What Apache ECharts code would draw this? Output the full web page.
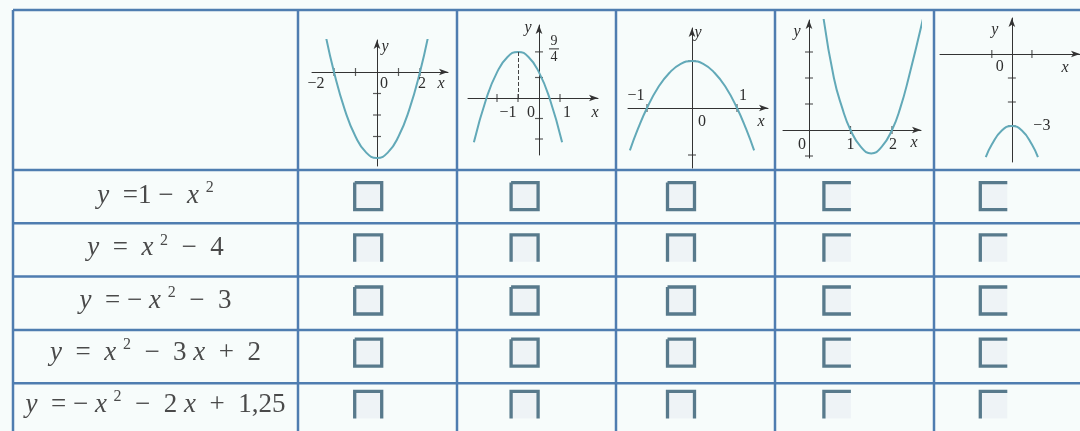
<!DOCTYPE html>
<html lang="ru">
<head>
<meta charset="UTF-8" />
<title>Графики парабол</title>
<style>
html, body { margin: 0; padding: 0; background: #f7fcfb; }
#main { width: 1080px; height: 431px; }
</style>
</head>
<body>
<div id="main"></div>
<script src="https://cdn.jsdelivr.net/npm/echarts@6/dist/echarts.min.js"></script>
<script type="text/javascript">
// строки таблицы
var formulas = ['y  =1 −  x ²', 'y  =  x ²  −  4', 'y  = − x ²  −  3', 'y  =  x ²  −  3 x  +  2', 'y  = − x ²  −  2 x  +  1,25'];
var columns = ['1', '2', '3', '4', '5'];
// какие стороны у квадратиков видны (t l r b)
var boxSides = [
    ['tlrb', 'tlrb', 'tlrb', 'tlb', 'tlb'],
    ['tlr', 'tlr', 'tlr', 'tl', 'tl'],
    ['tlrb', 'tlrb', 'tlrb', 'tlb', 'tlb'],
    ['tlrb', 'tlrb', 'tlrb', 'tlb', 'tlb'],
    ['tlr', 'tlr', 'tlr', 'tl', 'tl']
];

// графики в шапке
var curve1 = [[-2.4, 1.76], [-2, 0], [-1.5, -1.75], [-1, -3], [-0.5, -3.75], [0, -4], [0.5, -3.75], [1, -3], [1.5, -1.75], [2, 0], [2.4, 1.76]];
var curve2 = [[-3.1, -2.16], [-2.5, 0], [-2, 1.25], [-1.5, 2], [-1, 2.25], [-0.5, 2], [0, 1.25], [0.5, 0], [1.1, -2.16]];
var curve3 = [[-1.38, -0.9], [-1.2, -0.44], [-1, 0], [-0.75, 0.44], [-0.5, 0.75], [-0.25, 0.94], [0, 1], [0.25, 0.94], [0.5, 0.75], [0.75, 0.44], [1, 0], [1.2, -0.44], [1.38, -0.9]];
var curve4 = [[0.35, 4.3], [0.6, 2.0], [0.8, 0.85], [1, 0], [1.25, -0.65], [1.5, -0.9], [1.75, -0.65], [2, 0], [2.2, 0.85], [2.4, 2.0], [2.75, 4.3]];
var curve5 = [[-1.3, -4.3], [-1, -3.77], [-0.5, -3.19], [0, -3], [0.5, -3.19], [1, -3.77], [1.3, -4.3]];
var vertex2 = [-1, 2.25];

var xTicks = [[-2, -1, 1, 2], [-2, -1, 1], [-1, 1], [1, 2], [-1, 1]];
var yTicks = [[-1, -2, -3], [2.25, 1, -1, -2], [1, -1], [3, 2, 1, -1], [-1, -2, -3]];
var xLabels = [
    [[-2, '−2'], [0, '0'], [2, '2']],
    [[-1, '−1'], [0, '0'], [1, '1']],
    [[-1, '−1'], [0, '0'], [1, '1']],
    [[0, '0'], [1, '1'], [2, '2']],
    [[0, '0']]
];
var yLabels = [[], [[2.25, '9/4']], [], [], [[-3, '−3']]];

// расположение графиков (пиксели)
var plots = [
    {ox: 377, oy: 72, sx: 21.5, sy: 21.5, xL: 312, xR: 448, yT: 40, yB: 166,
        shift: {'−2': [-18, 12], '0': [7, 12], '2': [2, 12], 'x': [-7, 12], 'y': [8, 7]}},
    {ox: 539, oy: 98, sx: 21, sy: 20.5, xL: 468, xR: 598, yT: 25, yB: 155,
        shift: {'−1': [-10, 15], '0': [-8, 15], '1': [7, 15], 'x': [-3, 15], 'y': [-11, 3], '9/4': [15, -3]}},
    {ox: 692, oy: 108, sx: 45, sy: 47, xL: 628, xR: 768, yT: 28, yB: 168,
        shift: {'−1': [-11, -12], '1': [6, -12], '0': [10, 14], 'x': [-7, 14], 'y': [6, 5]}},
    {ox: 809, oy: 130, sx: 41.5, sy: 26, xL: 783, xR: 921, yT: 20, yB: 158,
        shift: {'0': [-7, 15], '1': [0, 15], '2': [1, 15], 'x': [-7, 13], 'y': [-12, 12]}},
    {ox: 1017, oy: 54, sx: 21.5, sy: 24, xL: 940, xR: 1090, yT: 18, yB: 162,
        shift: {'0': [-12, 13], '−3': [30, 0], 'x': [-15, 14], 'y': [-17, 12]}}
];
var curves = [curve1, curve2, curve3, curve4, curve5];

var tableLeft = 13, tableTop = 10, headBottom = 170, firstCol = 298, colW = 159, rowH = 53.3;
var lineColor = '#4f7db0';

var myChart = echarts.init(document.getElementById('main'));

var grids = [], xAxes = [], yAxes = [], series = [];
plots.forEach(function (p, i) {
    var xmin = (p.xL - p.ox) / p.sx, xmax = (p.xR - p.ox) / p.sx;
    var ymin = -(p.yB - p.oy) / p.sy, ymax = (p.oy - p.yT) / p.sy;
    grids.push({left: p.xL, top: p.yT, width: p.xR - p.xL, height: p.yB - p.yT});
    var axisLine = {onZero: true, symbol: ['none', 'arrow'], symbolSize: [5, 9], lineStyle: {color: '#333', width: 1}};
    xAxes.push({type: 'value', gridIndex: i, min: xmin, max: xmax, axisLine: axisLine,
        axisTick: {show: false}, axisLabel: {show: false}, splitLine: {show: false}});
    yAxes.push({type: 'value', gridIndex: i, min: ymin, max: ymax, axisLine: axisLine,
        axisTick: {show: false}, axisLabel: {show: false}, splitLine: {show: false}});

    var marks = [];
    function addMark(coord, text) {
        var italic = (text === 'x' || text === 'y');
        var fmt = text;
        if (text === '9/4') fmt = '{n|9}\n{b| }\n{n|4}';
        marks.push({coord: coord, label: {formatter: fmt, offset: p.shift[text] || [0, 0],
            fontStyle: italic ? 'italic' : 'normal'}});
    }
    xLabels[i].forEach(function (l) { addMark([l[0], 0], l[1]); });
    yLabels[i].forEach(function (l) { addMark([0, l[0]], l[1]); });
    addMark([xmax, 0], 'x');
    addMark([0, ymax], 'y');

    var s = {
        type: 'line', xAxisIndex: i, yAxisIndex: i, data: curves[i], smooth: true, showSymbol: false,
        lineStyle: {color: '#62a9b8', width: 2}, silent: true, z: 3,
        markPoint: {
            symbol: 'circle', symbolSize: 1, itemStyle: {color: 'transparent'}, silent: true,
            label: {show: true, position: 'inside', fontFamily: 'Liberation Serif', fontSize: 16, color: '#2e2e2e',
                rich: {n: {fontSize: 14, lineHeight: 13, color: '#2e2e2e', fontFamily: 'Liberation Serif'},
                    b: {width: 10, height: 1, lineHeight: 3, fontSize: 1, backgroundColor: '#2e2e2e'}}},
            data: marks
        }
    };
    if (i === 1) {
        s.markLine = {symbol: 'none', silent: true, label: {show: false},
            lineStyle: {type: 'dashed', color: '#444', width: 1},
            data: [[{coord: [vertex2[0], 0]}, {coord: vertex2}]]};
    }
    series.push(s);
    series.push({type: 'scatter', xAxisIndex: i, yAxisIndex: i, symbol: 'rect', symbolSize: [1.2, 8],
        itemStyle: {color: '#333'}, silent: true, data: xTicks[i].map(function (v) { return [v, 0]; })});
    series.push({type: 'scatter', xAxisIndex: i, yAxisIndex: i, symbol: 'rect', symbolSize: [8, 1.2],
        itemStyle: {color: '#333'}, silent: true, data: yTicks[i].map(function (v) { return [0, v]; })});
});

// тело таблицы
grids.push({left: firstCol, top: headBottom, width: colW * columns.length, height: rowH * formulas.length});
xAxes.push({type: 'category', gridIndex: 5, data: columns, show: false});
yAxes.push({type: 'category', gridIndex: 5, data: formulas, inverse: true,
    axisLine: {show: false}, axisTick: {show: false}, splitLine: {show: false},
    axisLabel: {margin: (firstCol - tableLeft) / 2, align: 'center', fontFamily: 'Liberation Serif', fontSize: 27, color: '#4a4a4a',
        formatter: function (v) {
            return v.replace(/([xy])/g, '{i|$1}').replace(/²/g, '{s|2}');
        },
        rich: {i: {fontStyle: 'italic', fontFamily: 'Liberation Serif', fontSize: 27, color: '#4a4a4a', lineHeight: 32},
            s: {fontFamily: 'Liberation Serif', fontSize: 16, color: '#4a4a4a', verticalAlign: 'top', lineHeight: 32}}}});

var boxData = [];
boxSides.forEach(function (row, r) {
    row.forEach(function (c, k) { boxData.push([k, r]); });
});
series.push({
    type: 'custom', xAxisIndex: 5, yAxisIndex: 5, data: boxData, silent: true,
    renderItem: function (params, api) {
        var c = api.coord([api.value(0), api.value(1)]);
        var sides = boxSides[api.value(1)][api.value(0)];
        var w = 27, x0 = c[0] - 8 - w / 2, x1 = x0 + w, y0 = c[1] - w / 2, y1 = y0 + w;
        var pts;
        if (sides === 'tlrb') pts = [[x0, y0], [x1, y0], [x1, y1], [x0, y1], [x0, y0]];
        else if (sides === 'tlr') pts = [[x0, y1], [x0, y0], [x1, y0], [x1, y1]];
        else if (sides === 'tlb') pts = [[x1, y0], [x0, y0], [x0, y1], [x1, y1]];
        else pts = [[x1, y0], [x0, y0], [x0, y1]];
        return {type: 'group', children: [
            {type: 'rect', shape: {x: x0, y: y0, width: w, height: w}, style: {fill: '#eef3f6'}},
            {type: 'polyline', shape: {points: pts}, style: {stroke: '#587a8c', lineWidth: 3.3, fill: null}}
        ]};
    }
});

// линии таблицы
var graphic = [];
var right = firstCol + colW * columns.length;
var colEdges = [tableLeft], rowEdges = [tableTop];
for (var k = 0; k < columns.length; k++) colEdges.push(firstCol + colW * k);
for (var r = 0; r < formulas.length; r++) rowEdges.push(headBottom + rowH * r);
colEdges.forEach(function (x) {
    graphic.push({type: 'line', shape: {x1: x, y1: tableTop, x2: x, y2: 445}, style: {stroke: lineColor, lineWidth: 2.5}});
});
rowEdges.forEach(function (y) {
    graphic.push({type: 'line', shape: {x1: tableLeft, y1: y, x2: right, y2: y}, style: {stroke: lineColor, lineWidth: 2.5}});
});

var option = {
    backgroundColor: '#f7fcfb',
    animation: false,
    grid: grids,
    xAxis: xAxes,
    yAxis: yAxes,
    graphic: graphic,
    series: series
};
myChart.setOption(option);
</script>
</body>
</html>
